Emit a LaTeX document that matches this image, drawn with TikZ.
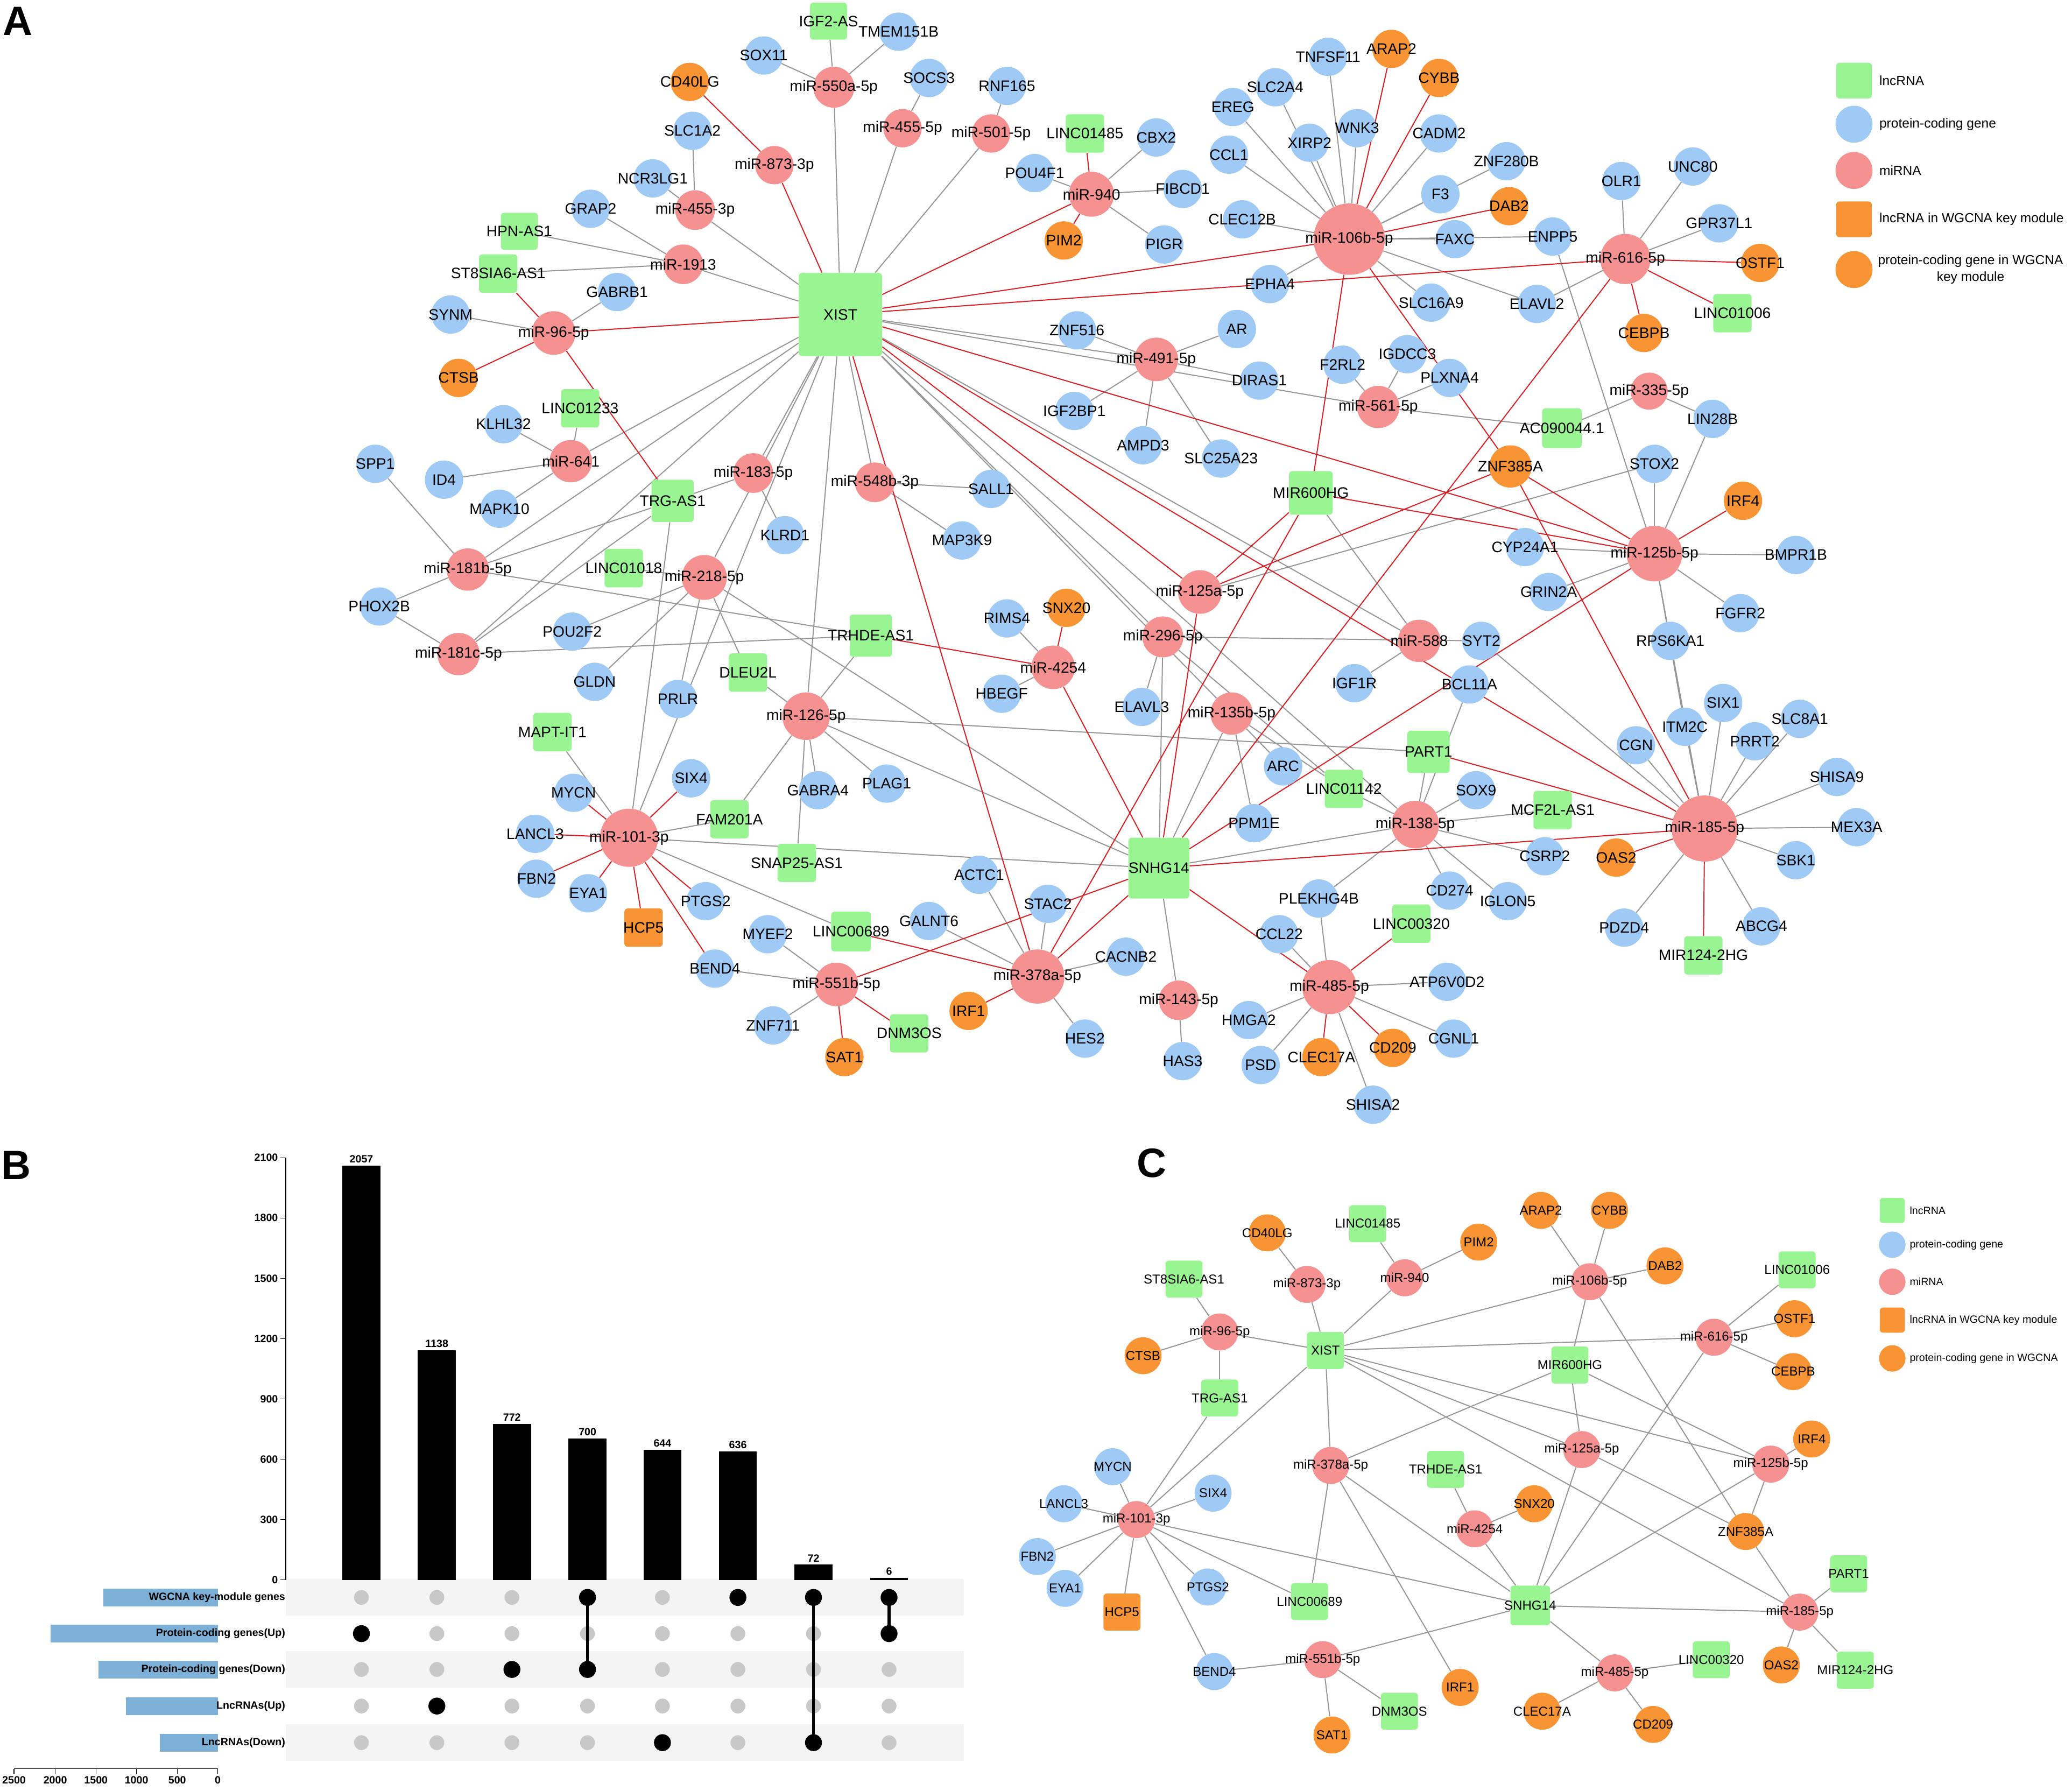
\documentclass[tikz,border=0pt]{standalone}
\usepackage{fontspec}
\setmainfont{Liberation Sans}
\pgfdeclarelayer{edgelayer}
\pgfsetlayers{edgelayer,main}
\definecolor{cLnc}{RGB}{153,245,145}
\definecolor{cPc}{RGB}{158,202,245}
\definecolor{cMi}{RGB}{246,145,145}
\definecolor{cOr}{RGB}{248,148,52}
\definecolor{cGrey}{RGB}{150,150,150}
\definecolor{cRed}{RGB}{215,30,35}
\definecolor{cBar}{RGB}{125,176,214}
\definecolor{cDot}{RGB}{200,200,200}
\definecolor{cStripe}{RGB}{244,244,244}
\newcommand{\myfA}{\fontsize{11.5}{13}\selectfont}
\newcommand{\myfC}{\fontsize{9.8}{11}\selectfont}
\newcommand{\myfLA}{\fontsize{10}{12.5}\selectfont}
\newcommand{\myfLC}{\fontsize{8}{10}\selectfont}
\newcommand{\myfB}{\fontsize{8}{10}\selectfont\bfseries}
\newcommand{\myfP}{\fontsize{31}{33}\selectfont\bfseries}

\def\Alist{%
xist/ln/63/636/238/XIST,
snhg/ln/46/877/657/SNHG14,
mir600/ln/33/992/373/MIR600HG,
igf2as/ln/28/627/16/IGF2-AS,
hpnas/ln/28/393/175/HPN-AS1,
st8/ln/29/377/207/ST8SIA6-AS1,
linc1233/ln/29/439/309/LINC01233,
trgas/ln/32/509/379/TRG-AS1,
linc1018/ln/29/472/430/LINC01018,
dleu2l/ln/29/566/509/DLEU2L,
trhde/ln/32/659/481/TRHDE-AS1,
mapt/ln/29/418/554/MAPT-IT1,
fam201a/ln/29/552/620/FAM201A,
snap25/ln/29/603/653/SNAP25-AS1,
linc689/ln/30/644/705/LINC00689,
dnm3os/ln/29/688/782/DNM3OS,
linc1485/ln/29/821/101/LINC01485,
linc1142/ln/29/1017/597/LINC01142,
part1/ln/32/1081/569/PART1,
mcf2l/ln/29/1175/613/MCF2L-AS1,
linc320/ln/29/1068/699/LINC00320,
mir124hg/ln/29/1289/723/MIR124-2HG,
ac090/ln/30/1182/324/AC090044.1,
linc1006/ln/29/1311/237/LINC01006,
hcp5/oln/29/487/702/HCP5,
m550a/mi/31/631/66/miR-550a-5p,
m4555/mi/29/683/97/miR-455-5p,
m501/mi/29/750/101/miR-501-5p,
m873/mi/29/586/125/miR-873-3p,
m4553/mi/30/526/159/miR-455-3p,
m1913/mi/30/517/200/miR-1913,
m96/mi/33/419/252/miR-96-5p,
m940/mi/34/826/147/miR-940,
m106b/mi/54/1021/181/miR-106b-5p,
m616/mi/38/1230/196/miR-616-5p,
m491/mi/33/875/272/miR-491-5p,
m561/mi/32/1043/308/miR-561-5p,
m335/mi/28/1248/296/miR-335-5p,
m641/mi/32/432/349/miR-641,
m183/mi/30/570/358/miR-183-5p,
m548b/mi/30/662/365/miR-548b-3p,
m181b/mi/32/354/431/miR-181b-5p,
m218/mi/34/533/437/miR-218-5p,
m181c/mi/32/347/495/miR-181c-5p,
m125a/mi/33/908/448/miR-125a-5p,
m125b/mi/42/1252/419/miR-125b-5p,
m296/mi/31/880/482/miR-296-5p,
m588/mi/32/1074/485/miR-588,
m4254/mi/33/797/505/miR-4254,
m135b/mi/32/932/540/miR-135b-5p,
m126/mi/36/610/542/miR-126-5p,
m138/mi/36/1071/624/miR-138-5p,
m185/mi/50/1290/627/miR-185-5p,
m101/mi/44/476/634/miR-101-3p,
m378a/mi/41/785/739/miR-378a-5p,
m551b/mi/33/633/745/miR-551b-5p,
m485/mi/41/1006/747/miR-485-5p,
m143/mi/30/892/757/miR-143-5p,
tmem/pc/29/680/24/TMEM151B,
sox11/pc/29/578/42/SOX11,
socs3/pc/29/703/59/SOCS3,
rnf165/pc/29/762/65/RNF165,
slc1a2/pc/29/524/99/SLC1A2,
ncr3/pc/29/494/135/NCR3LG1,
grap2/pc/29/447/158/GRAP2,
gabrb1/pc/29/467/221/GABRB1,
synm/pc/29/341/238/SYNM,
klhl32/pc/29/381/321/KLHL32,
spp1/pc/29/284/351/SPP1,
id4/pc/29/336/363/ID4,
mapk10/pc/29/378/385/MAPK10,
klrd1/pc/29/594/405/KLRD1,
sall1/pc/29/750/370/SALL1,
map3k9/pc/29/728/409/MAP3K9,
phox2b/pc/29/287/459/PHOX2B,
pou2f2/pc/29/433/478/POU2F2,
gldn/pc/29/450/516/GLDN,
prlr/pc/29/513/529/PRLR,
six4/pc/29/523/589/SIX4,
mycn/pc/29/434/600/MYCN,
gabra4/pc/29/619/598/GABRA4,
plag1/pc/29/671/593/PLAG1,
lancl3/pc/29/405/631/LANCL3,
fbn2/pc/29/406/665/FBN2,
eya1/pc/29/445/676/EYA1,
ptgs2/pc/29/534/682/PTGS2,
bend4/pc/29/541/733/BEND4,
myef2/pc/29/581/707/MYEF2,
znf711/pc/29/585/776/ZNF711,
rims4/pc/29/762/468/RIMS4,
hbegf/pc/29/758/525/HBEGF,
actc1/pc/29/741/662/ACTC1,
stac2/pc/29/793/684/STAC2,
galnt6/pc/29/703/697/GALNT6,
cacnb2/pc/29/852/724/CACNB2,
hes2/pc/29/821/786/HES2,
has3/pc/29/895/803/HAS3,
hmga2/pc/29/945/772/HMGA2,
psd/pc/29/954/806/PSD,
shisa2/pc/29/1039/836/SHISA2,
ccl22/pc/29/968/707/CCL22,
plekhg/pc/29/998/680/PLEKHG4B,
atp6/pc/29/1095/743/ATP6V0D2,
cgnl1/pc/29/1100/786/CGNL1,
cd274/pc/29/1097/674/CD274,
iglon5/pc/29/1141/682/IGLON5,
csrp2/pc/29/1169/648/CSRP2,
sox9/pc/29/1117/598/SOX9,
elavl3/pc/29/864/535/ELAVL3,
arc/pc/29/971/580/ARC,
ppm1e/pc/29/949/623/PPM1E,
igf1r/pc/29/1025/517/IGF1R,
syt2/pc/29/1121/485/SYT2,
bcl11a/pc/29/1112/518/BCL11A,
cyp24/pc/29/1154/414/CYP24A1,
grin2a/pc/29/1172/448/GRIN2A,
bmpr1b/pc/29/1359/420/BMPR1B,
fgfr2/pc/29/1317/464/FGFR2,
rps6/pc/29/1264/485/RPS6KA1,
cgn/pc/29/1238/564/CGN,
itm2c/pc/29/1275/550/ITM2C,
six1/pc/29/1304/532/SIX1,
prrt2/pc/29/1328/561/PRRT2,
slc8a1/pc/29/1362/544/SLC8A1,
shisa9/pc/29/1390/588/SHISA9,
mex3a/pc/29/1405/626/MEX3A,
sbk1/pc/29/1359/651/SBK1,
pdzd4/pc/29/1229/702/PDZD4,
abcg4/pc/29/1333/701/ABCG4,
lin28b/pc/29/1296/317/LIN28B,
stox2/pc/29/1252/351/STOX2,
plxna4/pc/29/1097/286/PLXNA4,
igdcc3/pc/29/1065/268/IGDCC3,
f2rl2/pc/29/1016/276/F2RL2,
diras1/pc/29/953/288/DIRAS1,
ar/pc/29/936/249/AR,
znf516/pc/29/815/250/ZNF516,
igf2bp1/pc/29/813/311/IGF2BP1,
ampd3/pc/29/865/337/AMPD3,
slc25/pc/29/924/347/SLC25A23,
cbx2/pc/29/875/104/CBX2,
pou4f1/pc/29/783/131/POU4F1,
fibcd1/pc/29/895/143/FIBCD1,
pigr/pc/29/881/185/PIGR,
tnfsf11/pc/29/1005/43/TNFSF11,
slc2a4/pc/29/965/66/SLC2A4,
ereg/pc/29/933/81/EREG,
xirp2/pc/29/991/108/XIRP2,
wnk3/pc/29/1027/97/WNK3,
ccl1/pc/29/930/117/CCL1,
clec12b/pc/29/940/166/CLEC12B,
epha4/pc/29/961/215/EPHA4,
cadm2/pc/29/1089/101/CADM2,
znf280b/pc/29/1140/122/ZNF280B,
f3/pc/29/1090/147/F3,
faxc/pc/29/1101/181/FAXC,
enpp5/pc/29/1175/179/ENPP5,
slc16a9/pc/29/1083/229/SLC16A9,
elavl2/pc/29/1163/230/ELAVL2,
olr1/pc/29/1227/137/OLR1,
unc80/pc/29/1281/126/UNC80,
gpr37/pc/29/1301/169/GPR37L1,
cd40lg/opc/29/522/62/CD40LG,
pim2/opc/29/805/182/PIM2,
ctsb/opc/29/347/286/CTSB,
arap2/opc/29/1053/37/ARAP2,
cybb/opc/29/1089/59/CYBB,
dab2/opc/29/1142/156/DAB2,
ostf1/opc/29/1332/199/OSTF1,
cebpb/opc/29/1244/252/CEBPB,
znf385a/opc/32/1143/353/ZNF385A,
irf4/opc/29/1319/379/IRF4,
snx20/opc/29/807/460/SNX20,
irf1/opc/29/733/765/IRF1,
sat1/opc/29/639/800/SAT1,
clec17a/opc/29/1000/800/CLEC17A,
cd209/opc/29/1054/793/CD209,
oas2/opc/29/1223/649/OAS2}

\def\Clist{%
cxist/ln/28/1003/1022/XIST,
csnhg/ln/30/1158/1215/SNHG14,
cmir600/ln/28/1188/1033/MIR600HG,
cst8/ln/28/896/968/ST8SIA6-AS1,
clinc1485/ln/28/1035/926/LINC01485,
clinc1006/ln/28/1360/961/LINC01006,
ctrg/ln/28/923/1058/TRG-AS1,
ctrhde/ln/28/1094/1112/TRHDE-AS1,
cpart1/ln/28/1399/1191/PART1,
clinc689/ln/28/991/1212/LINC00689,
clinc320/ln/28/1295/1256/LINC00320,
cmir124/ln/28/1404/1264/MIR124-2HG,
cdnm3os/ln/28/1059/1295/DNM3OS,
chcp5/oln/28/849/1220/HCP5,
cm873/mi/28/989/972/miR-873-3p,
cm940/mi/28/1063/967/miR-940,
cm106b/mi/28/1203/970/miR-106b-5p,
cm96/mi/28/923/1008/miR-96-5p,
cm616/mi/28/1297/1012/miR-616-5p,
cm125a/mi/28/1197/1097/miR-125a-5p,
cm125b/mi/28/1340/1108/miR-125b-5p,
cm378a/mi/28/1007/1109/miR-378a-5p,
cm4254/mi/28/1116/1157/miR-4254,
cm101/mi/28/860/1150/miR-101-3p,
cm185/mi/28/1362/1220/miR-185-5p,
cm551b/mi/28/1001/1256/miR-551b-5p,
cm485/mi/28/1222/1266/miR-485-5p,
ccd40lg/opc/28/959/933/CD40LG,
cpim2/opc/28/1119/940/PIM2,
carap2/opc/28/1166/916/ARAP2,
ccybb/opc/28/1218/916/CYBB,
cdab2/opc/28/1260/958/DAB2,
costf1/opc/28/1358/998/OSTF1,
ccebpb/opc/28/1357/1038/CEBPB,
cctsb/opc/28/865/1026/CTSB,
cirf4/opc/28/1371/1089/IRF4,
csnx20/opc/28/1161/1138/SNX20,
cznf/opc/28/1321/1159/ZNF385A,
coas2/opc/28/1348/1260/OAS2,
cirf1/opc/28/1105/1277/IRF1,
cclec17a/opc/28/1167/1295/CLEC17A,
ccd209/opc/28/1251/1305/CD209,
csat1/opc/28/1008/1313/SAT1,
cmycn/pc/28/842/1110/MYCN,
clancl3/pc/28/805/1138/LANCL3,
cfbn2/pc/28/785/1178/FBN2,
ceya1/pc/28/806/1202/EYA1,
csix4/pc/28/918/1130/SIX4,
cptgs2/pc/28/914/1201/PTGS2,
cbend4/pc/28/919/1265/BEND4}

\begin{document}
\begin{tikzpicture}[x=1pt,y=-1pt,
  ln/.style={rectangle,rounded corners=2.5pt,fill=cLnc,inner sep=0pt},
  oln/.style={rectangle,rounded corners=2.5pt,fill=cOr,inner sep=0pt},
  pc/.style={circle,fill=cPc,inner sep=0pt},
  opc/.style={circle,fill=cOr,inner sep=0pt},
  mi/.style={circle,fill=cMi,inner sep=0pt},
  gE/.style={draw=cGrey,line width=0.8pt},
  rE/.style={draw=cRed,line width=0.8pt},
  lblA/.style={inner sep=0pt,font=\myfA,text=black},
  lblC/.style={inner sep=0pt,font=\myfC,text=black},
  legA/.style={anchor=west,inner sep=0pt,font=\myfLA,align=center},
  legC/.style={anchor=west,inner sep=0pt,font=\myfLC},
  bfont/.style={inner sep=0pt,font=\myfB}]
\useasboundingbox (0,0) rectangle (1568,1355);

% ---------- panel labels
\node[anchor=north west,inner sep=0pt,font=\myfP] (pA) at (2,5) {A};
\node[anchor=north west,inner sep=0pt,font=\myfP] (pB) at (1,871) {B};
\node[anchor=north west,inner sep=0pt,font=\myfP] (pC) at (860,869) {C};

% ---------- node shapes
\foreach \n/\s/\d/\x/\y/\t in \Alist {\node[\s,minimum size=\d] (\n) at (\x,\y) {};}
\foreach \n/\s/\d/\x/\y/\t in \Clist {\node[\s,minimum size=\d] (\n) at (\x,\y) {};}

% ---------- edges
\begin{pgfonlayer}{edgelayer}
\fill[white] (0,0) rectangle (1568,1355);
\foreach \a/\b in {m550a/igf2as,m550a/tmem,m550a/sox11,m550a/xist,
 m4555/socs3,m4555/xist,m501/rnf165,m501/xist,
 m4553/slc1a2,m4553/ncr3,m4553/xist,
 m1913/hpnas,m1913/grap2,m1913/st8,m1913/xist,
 m96/synm,m96/gabrb1,
 m940/cbx2,m940/pou4f1,m940/fibcd1,m940/pigr,
 m106b/tnfsf11,m106b/slc2a4,m106b/ereg,m106b/xirp2,m106b/wnk3,m106b/ccl1,m106b/clec12b,m106b/epha4,m106b/cadm2,m106b/znf280b,m106b/f3,m106b/faxc,m106b/enpp5,m106b/slc16a9,m106b/elavl2,
 m616/olr1,m616/unc80,m616/gpr37,m616/elavl2,
 m491/znf516,m491/ar,m491/igf2bp1,m491/ampd3,m491/slc25,m491/diras1,m491/xist,
 m561/f2rl2,m561/igdcc3,m561/plxna4,m561/ac090,m561/xist,
 m335/ac090,m335/lin28b,
 m125b/stox2,m125b/lin28b,m125b/cyp24,m125b/bmpr1b,m125b/grin2a,m125b/fgfr2,m125b/rps6,m125b/itm2c,m125b/enpp5,
 m125a/stox2,
 m641/linc1233,m641/klhl32,m641/id4,m641/mapk10,m641/xist,
 m181b/spp1,m181b/phox2b,m181b/trgas,m181b/xist,m181b/trhde,
 m181c/phox2b,m181c/trgas,m181c/xist,m181c/trhde,
 m183/trgas,m183/klrd1,m183/xist,
 m548b/xist,m548b/sall1,m548b/map3k9,
 m218/xist,m218/pou2f2,m218/gldn,m218/prlr,m218/dleu2l,m218/snhg,m218/linc1018,
 m126/xist,m126/trhde,m126/dleu2l,m126/gabra4,m126/plag1,m126/fam201a,m126/snap25,m126/snhg,m126/part1,
 m101/xist,m101/trgas,m101/mapt,m101/fam201a,m101/snhg,m101/linc689,
 m551b/bend4,m551b/myef2,m551b/znf711,
 m378a/actc1,m378a/stac2,m378a/galnt6,m378a/cacnb2,m378a/hes2,
 m4254/rims4,m4254/hbegf,
 m296/xist,m296/elavl3,m296/syt2,m296/snhg,m296/linc1142,
 m135b/xist,m135b/arc,m135b/ppm1e,m135b/snhg,m135b/linc1142,
 m588/xist,m588/mir600,m588/igf1r,
 m138/xist,m138/part1,m138/bcl11a,m138/sox9,m138/mcf2l,m138/csrp2,m138/cd274,m138/iglon5,m138/linc1142,m138/snhg,m138/plekhg,
 m485/ccl22,m485/plekhg,m485/atp6,m485/cgnl1,m485/shisa2,m485/psd,m485/hmga2,
 m143/snhg,m143/has3,
 m185/syt2,m185/cgn,m185/itm2c,m185/six1,m185/prrt2,m185/slc8a1,m185/shisa9,m185/mex3a,m185/sbk1,m185/abcg4,m185/pdzd4,m185/rps6}
 {\draw[gE] (\a) -- (\b);}
\foreach \a/\b in {m873/cd40lg,m873/xist,m940/linc1485,m940/pim2,m940/xist,
 m106b/arap2,m106b/cybb,m106b/dab2,m106b/xist,m106b/mir600,m106b/znf385a,
 m96/st8,m96/ctsb,m96/xist,m96/trgas,
 xist/m616,m616/linc1006,m616/ostf1,m616/cebpb,m616/snhg,
 xist/m125a,xist/m125b,xist/m185,xist/m378a,
 mir600/m378a,mir600/m125a,mir600/m125b,
 m125b/irf4,m125b/znf385a,m125b/snhg,m125a/znf385a,m125a/snhg,
 znf385a/m185,m185/part1,m185/oas2,m185/mir124hg,m185/snhg,
 trhde/m4254,snx20/m4254,m4254/snhg,
 m378a/snhg,m378a/linc689,m378a/irf1,
 m101/mycn,m101/six4,m101/lancl3,m101/fbn2,m101/eya1,m101/hcp5,m101/ptgs2,m101/bend4,
 snhg/m551b,m551b/sat1,m551b/dnm3os,
 snhg/m485,m485/linc320,m485/clec17a,m485/cd209}
 {\draw[rE] (\a) -- (\b);}
% panel C edges
\foreach \a/\b in {cm873/ccd40lg,cm873/cxist,cm940/clinc1485,cm940/cpim2,cm940/cxist,
 cm106b/carap2,cm106b/ccybb,cm106b/cdab2,cm106b/cxist,cm106b/cmir600,cm106b/cznf,
 cm96/cst8,cm96/cctsb,cm96/cxist,cm96/ctrg,
 cxist/cm616,cm616/clinc1006,cm616/costf1,cm616/ccebpb,cm616/csnhg,
 cxist/cm125a,cxist/cm125b,cxist/cm185,cxist/cm378a,cxist/cm101,ctrg/cm101,
 cmir600/cm378a,cmir600/cm125a,cmir600/cm125b,
 cm125b/cirf4,cm125b/cznf,cm125b/csnhg,cm125a/cznf,cm125a/csnhg,
 cznf/cm185,cm185/cpart1,cm185/coas2,cm185/cmir124,cm185/csnhg,
 ctrhde/cm4254,csnx20/cm4254,cm4254/csnhg,
 cm378a/csnhg,cm378a/clinc689,cm378a/cirf1,
 cm101/csnhg,cm101/cmycn,cm101/csix4,cm101/clancl3,cm101/cfbn2,cm101/ceya1,cm101/chcp5,cm101/cptgs2,cm101/cbend4,cm101/clinc689,
 csnhg/cm551b,cm551b/cbend4,cm551b/csat1,cm551b/cdnm3os,
 csnhg/cm485,cm485/clinc320,cm485/cclec17a,cm485/ccd209}
 {\draw[gE] (\a) -- (\b);}
\end{pgfonlayer}

% ---------- labels
\foreach \n/\s/\d/\x/\y/\t in \Alist {\node[lblA] (l\n) at (\x,\y) {\t};}
\foreach \n/\s/\d/\x/\y/\t in \Clist {\node[lblC] (l\n) at (\x,\y) {\t};}

% ---------- legend A
\node[ln,minimum size=27] (la1) at (1403,61) {};
\node[pc,minimum size=28] (la2) at (1403,94) {};
\node[mi,minimum size=28] (la3) at (1403,129) {};
\node[oln,minimum size=27] (la4) at (1403,166) {};
\node[opc,minimum size=28] (la5) at (1403,204) {};
\node[legA] (lat1) at (1422,61) {lncRNA};
\node[legA] (lat2) at (1422,94) {protein-coding gene};
\node[legA] (lat3) at (1422,129) {miRNA};
\node[legA] (lat4) at (1422,166) {lncRNA in WGCNA key module};
\node[legA] (lat5) at (1421,204) {protein-coding gene in WGCNA\\key module};

% ---------- legend C
\node[ln,minimum size=19] (lc1) at (1432,916) {};
\node[pc,minimum size=20] (lc2) at (1432,942) {};
\node[mi,minimum size=20] (lc3) at (1432,970) {};
\node[oln,minimum size=19] (lc4) at (1432,999) {};
\node[opc,minimum size=20] (lc5) at (1432,1028) {};
\node[legC] (lct1) at (1445,916) {lncRNA};
\node[legC] (lct2) at (1445,942) {protein-coding gene};
\node[legC] (lct3) at (1445,970) {miRNA};
\node[legC] (lct4) at (1445,999) {lncRNA in WGCNA key module};
\node[legC] (lct5) at (1445,1028) {protein-coding gene in WGCNA};

% ---------- panel B
\foreach \r in {1208.9,1263.4,1318.8}
  {\fill[cStripe] (216.3,{\r-13.8}) rectangle (729.6,{\r+13.8});}
\draw[black,line width=0.5pt] (216.3,876.1) -- (216.3,1195.6);
\foreach \v in {0,300,600,900,1200,1500,1800,2100}
  {\draw[black,line width=0.5pt] (212,{1195.6-\v*0.15214}) -- (216.3,{1195.6-\v*0.15214});
   \node[bfont,anchor=east] (yt\v) at (210.5,{1195.6-\v*0.15214}) {\v};}
\foreach \i/\v/\x in {1/2057/273.5,2/1138/330.6,3/772/387.4,4/700/444.6,5/644/501.3,6/636/558.4,7/72/615.6,8/6/672.8}
  {\fill[black] ({\x-14.4},1195.6) rectangle ({\x+14.4},{1195.6-\v*0.15214-0.6});
   \node[bfont,anchor=south] (bv\i) at (\x,{1195.6-\v*0.15214-2.5}) {\v};}
\foreach \x in {273.5,330.6,387.4,444.6,501.3,558.4,615.6,672.8}
  \foreach \r in {1208.9,1236.3,1263.4,1291.1,1318.8}
    {\fill[cDot] (\x,\r) circle (5.6);}
\draw[black,line width=2.2pt] (444.6,1208.9) -- (444.6,1263.4);
\draw[black,line width=2.2pt] (615.6,1208.9) -- (615.6,1318.8);
\draw[black,line width=2.2pt] (672.8,1208.9) -- (672.8,1236.3);
\foreach \x/\r in {273.5/1236.3,330.6/1291.1,387.4/1263.4,444.6/1208.9,444.6/1263.4,501.3/1318.8,558.4/1208.9,615.6/1208.9,615.6/1318.8,672.8/1208.9,672.8/1236.3}
  {\fill[black] (\x,\r) circle (6.4);}
\foreach \r/\len in {1208.9/86.5,1236.3/126.4,1263.4/90.3,1291.1/69.6,1318.8/43.7}
  {\fill[cBar] ({164.8-\len},{\r-6.7}) rectangle (164.8,{\r+6.7});}
\node[bfont,anchor=east] (s1) at (216,1208.9) {WGCNA key-module genes};
\node[bfont,anchor=east] (s2) at (216,1236.3) {Protein-coding genes(Up)};
\node[bfont,anchor=east] (s3) at (216,1263.4) {Protein-coding genes(Down)};
\node[bfont,anchor=east] (s4) at (216,1291.1) {LncRNAs(Up)};
\node[bfont,anchor=east] (s5) at (216,1318.8) {LncRNAs(Down)};
\draw[black,line width=0.5pt] (10.6,1338.6) -- (164.8,1338.6);
\foreach \x/\t in {10.6/2500,41.8/2000,72.6/1500,103.3/1000,134.1/500,164.8/0}
  {\draw[black,line width=0.5pt] (\x,1338.6) -- (\x,1342.5);
   \node[bfont,anchor=north] (xt\t) at (\x,1344) {\t};}
\end{tikzpicture}
\end{document}
